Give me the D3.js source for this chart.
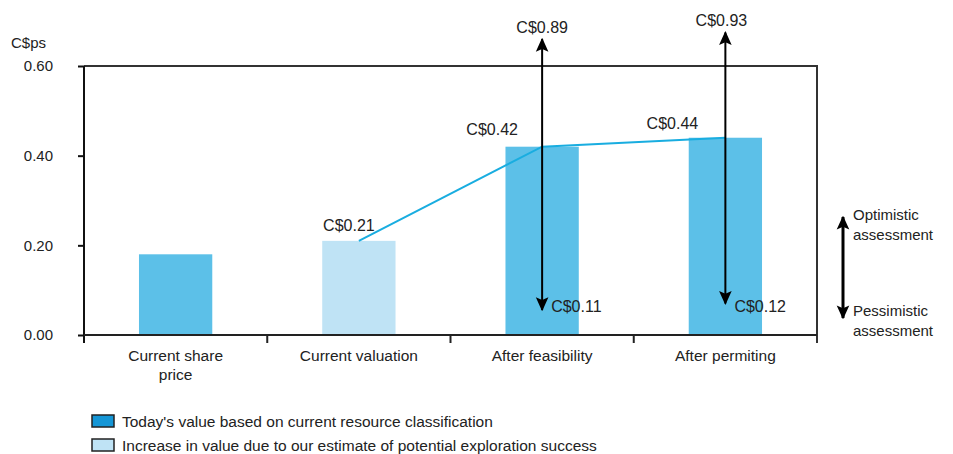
<!DOCTYPE html>
<html><head><meta charset="utf-8">
<script src="https://cdn.jsdelivr.net/npm/d3@7"></script>
<style>
html,body{margin:0;padding:0;background:#fff;}
svg text{font-family:"Liberation Sans",Arial,sans-serif;fill:#222;}
</style></head>
<body><svg id="c" width="953" height="454"></svg>
<script>
// ---- data ----
const categories = [["Current share","price"],["Current valuation"],["After feasibility"],["After permiting"]];
const barValues = [0.18, 0.21, 0.42, 0.44];
const barKinds = ["today", "increase", "today", "today"];
const lineValues = [null, 0.21, 0.42, 0.44];
const rangeHigh = [null, null, 0.89, 0.93];
const rangeLow = [null, null, 0.11, 0.12];
const arrowTop = [null, null, 0.66, 0.675];     // drawn (truncated) arrow ends
const arrowBottom = [null, null, 0.056, 0.07];
const yTicks = [0, 0.2, 0.4, 0.6];
const legendItems = [
  {kind:"today", label:"Today's value based on current resource classification"},
  {kind:"increase", label:"Increase in value due to our estimate of potential exploration success"}
];
const sideLabels = [["Optimistic","assessment"],["Pessimistic","assessment"]];

// ---- layout ----
const svg = d3.select("#c");
const m = {left:84, right:817, top:66, bottom:335};
const x = d3.scaleBand().domain(d3.range(categories.length)).range([m.left, m.right]).paddingInner(0.6).paddingOuter(0.3);
const y = d3.scaleLinear().domain([0, 0.6]).range([m.bottom, m.top]);
const barColor = {today:"#5cc0e8", increase:"#bfe3f5"};
const legendColor = {today:"#1596d6", increase:"#bfe3f5"};
const fmt = v => "C$" + d3.format(".2f")(v);

// bars
svg.append("g").selectAll("rect").data(barValues).join("rect")
  .attr("x", (d,i)=>x(i)).attr("width", x.bandwidth())
  .attr("y", d=>y(d)).attr("height", d=>y(0)-y(d))
  .attr("fill", (d,i)=>barColor[barKinds[i]]);

// frame (top + right)
svg.append("path")
  .attr("d", `M${m.left},${m.top}H${m.right}V${m.bottom+8}`)
  .attr("fill","none").attr("stroke","#333").attr("stroke-width",2);

// y axis
const yAxis = svg.append("g").attr("transform", `translate(${m.left},0)`)
  .call(d3.axisLeft(y).tickValues(yTicks).tickFormat(d3.format(".2f")).tickSize(6).tickPadding(25));
yAxis.select(".domain").attr("d", `M0,${m.top}V${m.bottom+8}`).attr("stroke","#111").attr("stroke-width",2);
yAxis.selectAll(".tick line").attr("stroke","#111").attr("stroke-width",2);
yAxis.selectAll(".tick text").style("font-size","15px").attr("fill","#222").attr("font-family","Liberation Sans, Arial");

// x axis
const xAxis = svg.append("g").attr("transform", `translate(0,${m.bottom})`);
xAxis.append("line").attr("x1", m.left).attr("x2", m.right).attr("stroke","#222").attr("stroke-width",2);
const bounds = d3.range(1, categories.length).map(i => x(i) - x.step()*x.paddingInner()/2);
xAxis.selectAll(".tk").data(bounds).join("line").attr("class","tk")
  .attr("x1", d=>d).attr("x2", d=>d).attr("y1",0).attr("y2",8).attr("stroke","#222").attr("stroke-width",2);
const xl = xAxis.selectAll(".xl").data(categories).join("text").attr("class","xl")
  .attr("x", (d,i)=>x(i)+x.bandwidth()/2).attr("y", 26)
  .attr("text-anchor","middle").style("font-size","15.5px");
xl.selectAll("tspan").data(d=>d).join("tspan")
  .attr("x", function(){return this.parentNode.getAttribute("x");})
  .attr("dy", (d,i)=> i===0 ? 0 : 19).text(d=>d);

// y title
svg.append("text").attr("x", 11).attr("y", 48).style("font-size","15px").text("C$ps");

// line
const lineData = lineValues.map((v,i)=>({v,i})).filter(d=>d.v!=null);
svg.append("path").datum(lineData)
  .attr("d", d3.line().x(d=>x(d.i)+x.bandwidth()/2).y(d=>y(d.v)))
  .attr("fill","none").attr("stroke","#19ade0").attr("stroke-width",2);

// value labels
const valLabelDx = [null, -10, -50, -53];
const valLabelDy = [null, -10, -12, -9];
svg.append("g").selectAll("text").data(lineData).join("text")
  .attr("x", d=>x(d.i)+x.bandwidth()/2 + valLabelDx[d.i])
  .attr("y", d=>y(d.v) + valLabelDy[d.i])
  .attr("text-anchor","middle").style("font-size","16px").text(d=>fmt(d.v));

// arrows
const defs = svg.append("defs");
defs.append("marker").attr("id","ah").attr("viewBox","0 0 10 10").attr("refX",9).attr("refY",5)
  .attr("markerWidth",14).attr("markerHeight",14).attr("markerUnits","userSpaceOnUse").attr("orient","auto-start-reverse")
  .append("path").attr("d","M0,0.5L10,5L0,9.5L2,5Z").attr("fill","#000");
const arrows = rangeHigh.map((h,i)=>({i,h,l:rangeLow[i],t:arrowTop[i],b:arrowBottom[i]})).filter(d=>d.h!=null);
const ag = svg.append("g");
ag.selectAll("line").data(arrows).join("line")
  .attr("x1", d=>x(d.i)+x.bandwidth()/2).attr("x2", d=>x(d.i)+x.bandwidth()/2)
  .attr("y1", d=>y(d.b)).attr("y2", d=>y(d.t))
  .attr("stroke","#000").attr("stroke-width",2)
  .attr("marker-start","url(#ah)").attr("marker-end","url(#ah)");
ag.selectAll(".hi").data(arrows).join("text").attr("class","hi")
  .attr("x", d=>x(d.i)+x.bandwidth()/2 - (d.i===3?4:0)).attr("y", d=>y(d.t)-6)
  .attr("text-anchor","middle").style("font-size","16px").text(d=>fmt(d.h));
ag.selectAll(".lo").data(arrows).join("text").attr("class","lo")
  .attr("x", d=>x(d.i)+x.bandwidth()/2 + 9).attr("y", y(0)-23)
  .style("font-size","16px").text(d=>fmt(d.l));

// side legend (assessment)
const sx = 843;
svg.append("line").attr("x1", sx).attr("x2", sx).attr("y1", 318).attr("y2", 217)
  .attr("stroke","#000").attr("stroke-width",3)
  .attr("marker-start","url(#ah)").attr("marker-end","url(#ah)");
const sl = svg.append("g").selectAll("text").data(sideLabels).join("text")
  .attr("x", 853).attr("y", (d,i)=> i===0 ? 220 : 316).style("font-size","15px");
sl.selectAll("tspan").data(d=>d).join("tspan").attr("x",853).attr("dy",(d,i)=>i===0?0:20).text(d=>d);

// bottom legend
const lg = svg.append("g").selectAll("g").data(legendItems).join("g")
  .attr("transform", (d,i)=>`translate(92,${415 + i*24})`);
lg.append("rect").attr("width",22).attr("height",12)
  .attr("fill", d=>legendColor[d.kind]).attr("stroke","#222").attr("stroke-width",1.5);
lg.append("text").attr("x",30).attr("y",12).style("font-size","15.5px").text(d=>d.label);
</script>
</body></html>
